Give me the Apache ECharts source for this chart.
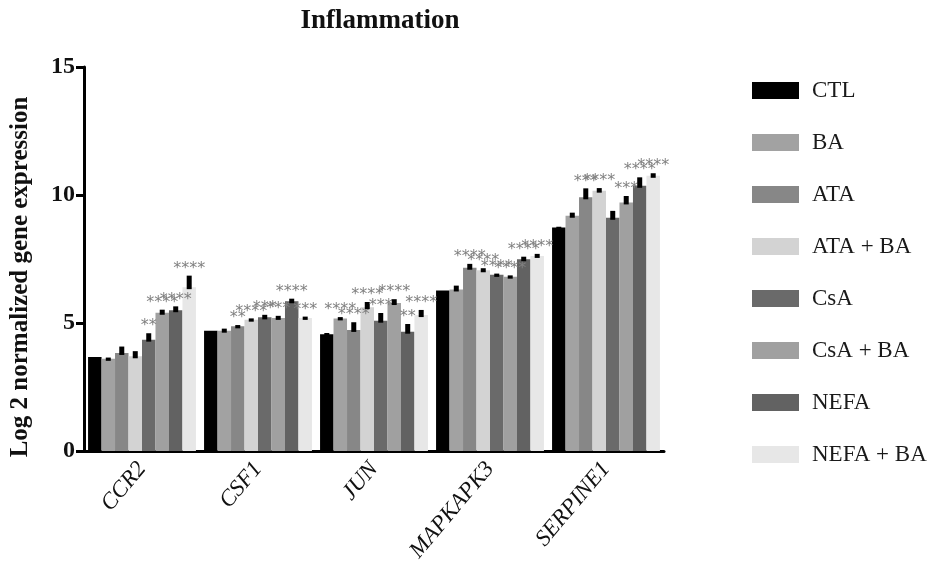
<!DOCTYPE html>
<html>
<head>
<meta charset="utf-8">
<title>Inflammation</title>
<script src="https://cdn.jsdelivr.net/npm/echarts@6/dist/echarts.min.js"></script>
<style>
  html, body { margin: 0; padding: 0; background: #fff; }
  #chart { width: 938px; height: 574px; }
</style>
</head>
<body>
<div id="chart"></div>
<script>
// Genes on the category axis
const genes = ['CCR2', 'CSF1', 'JUN', 'MAPKAPK3', 'SERPINE1'];
// Treatment groups, drawn left to right inside each gene
const groups = ['CTL', 'BA', 'ATA', 'ATA + BA', 'CsA', 'CsA + BA', 'NEFA', 'NEFA + BA'];
// Value axis ticks
const yTicks = [0, 5, 10, 15];

// Mean log2 normalized expression per group (one value per gene)
const valCTL    = [3.67, 4.70, 4.56, 6.27, 8.73];
const valBA     = [3.60, 4.70, 5.18, 6.31, 9.19];
const valATA    = [3.83, 4.87, 4.73, 7.16, 9.91];
const valATABA  = [3.70, 5.13, 5.62, 7.06, 10.17];
const valCsA    = [4.35, 5.22, 5.09, 6.88, 9.11];
const valCsABA  = [5.40, 5.20, 5.78, 6.81, 9.71];
const valNEFA   = [5.50, 5.85, 4.66, 7.49, 10.36];
const valNEFABA = [6.40, 5.20, 5.31, 7.62, 10.75];

// Error (SD) per group
const sdCTL    = [0.00, 0.00, 0.05, 0.00, 0.03];
const sdBA     = [0.05, 0.08, 0.05, 0.15, 0.12];
const sdATA    = [0.25, 0.05, 0.30, 0.15, 0.35];
const sdATABA  = [0.20, 0.05, 0.20, 0.08, 0.10];
const sdCsA    = [0.25, 0.10, 0.30, 0.05, 0.27];
const sdCsABA  = [0.12, 0.08, 0.15, 0.05, 0.25];
const sdNEFA   = [0.15, 0.10, 0.30, 0.10, 0.33];
const sdNEFABA = [0.45, 0.05, 0.20, 0.08, 0.10];

// Significance marks vs CTL
const sigCTL    = ['', '', '', '', ''];
const sigBA     = ['', '', '****', '', ''];
const sigATA    = ['', '**', '****', '****', '***'];
const sigATABA  = ['', '****', '****', '****', '****'];
const sigCsA    = ['**', '***', '***', '****', ''];
const sigCsABA  = ['****', '***', '****', '****', '***'];
const sigNEFA   = ['****', '****', '**', '****', '****'];
const sigNEFABA = ['****', '***', '****', '****', '****'];

// Grey fills for each group
const fills = ['#000000', '#a2a2a2', '#878787', '#d3d3d3', '#6a6a6a', '#a0a0a0', '#626262', '#e7e7e7'];

const groupValues = [valCTL, valBA, valATA, valATABA, valCsA, valCsABA, valNEFA, valNEFABA];
const groupSd = [sdCTL, sdBA, sdATA, sdATABA, sdCsA, sdCsABA, sdNEFA, sdNEFABA];
const groupSig = [sigCTL, sigBA, sigATA, sigATABA, sigCsA, sigCsABA, sigNEFA, sigNEFABA];

const CAT_GAP = 0.07;
const serif = '"Liberation Serif", "Times New Roman", serif';

const barSeries = groups.map((name, gi) => ({
  name: name,
  type: 'bar',
  data: groupValues[gi],
  barGap: '0%',
  barCategoryGap: (CAT_GAP * 100) + '%',
  itemStyle: { color: fills[gi] },
  emphasis: { disabled: true },
  z: 2
}));

// Error bars and significance stars, placed over the matching bar
const errorSeries = groups.map((name, gi) => ({
  type: 'custom',
  silent: true,
  z: 5,
  encode: { x: 0, y: 1 },
  data: genes.map((g, i) => [i, groupValues[gi][i], groupSd[gi][i]]),
  renderItem: function (params, api) {
    const i = api.value(0);
    const v = api.value(1);
    const sd = api.value(2);
    const band = api.size([1, 0])[0];
    const barW = band * (1 - CAT_GAP) / groups.length;
    const cx = api.coord([i, 0])[0] + (gi - (groups.length - 1) / 2) * barW;
    const yTop = api.coord([i, v + sd])[1];
    const yBar = api.coord([i, v])[1];
    const children = [];
    if (sd > 0) {
      children.push({
        type: 'rect',
        shape: { x: cx - 2.5, y: yTop, width: 5, height: Math.max(yBar - yTop + 2, 3) },
        style: { fill: '#000' }
      });
    }
    const sig = groupSig[gi][params.dataIndex];
    if (sig) {
      children.push({
        type: 'text',
        style: {
          text: sig, x: cx, y: yTop + 1,
          align: 'center', verticalAlign: 'bottom',
          fill: '#808080', font: '16px "DejaVu Sans", sans-serif'
        }
      });
    }
    return { type: 'group', children: children };
  }
}));

const chart = echarts.init(document.getElementById('chart'), null, { renderer: 'canvas' });
chart.setOption({
  animation: false,
  backgroundColor: '#ffffff',
  title: {
    text: 'Inflammation',
    left: 375, top: 3, textAlign: 'center',
    textStyle: { fontFamily: serif, fontWeight: 'bold', fontSize: 27, color: '#111' }
  },
  legend: {
    data: groups,
    orient: 'vertical',
    left: 747, top: 74,
    icon: 'rect',
    itemWidth: 47, itemHeight: 17, itemGap: 29,
    selectedMode: false,
    textStyle: { fontFamily: serif, fontSize: 23, color: '#1a1a1a', padding: [0, 0, 0, 8] }
  },
  grid: { left: 84, right: 274, top: 67, bottom: 123, containLabel: false },
  xAxis: {
    type: 'category',
    data: genes,
    axisLine: { lineStyle: { color: '#000', width: 3 } },
    axisTick: { alignWithLabel: true, length: 8, lineStyle: { color: '#000', width: 3 } },
    axisLabel: {
      rotate: 50, margin: 14, color: '#111',
      fontFamily: serif, fontStyle: 'italic', fontSize: 23
    }
  },
  yAxis: {
    type: 'value',
    min: yTicks[0], max: yTicks[yTicks.length - 1], interval: 5,
    splitLine: { show: false },
    axisLine: { show: true, lineStyle: { color: '#000', width: 3 } },
    axisTick: { show: true, length: 8, lineStyle: { color: '#000', width: 3 } },
    axisLabel: {
      margin: 9, color: '#111',
      fontFamily: serif, fontWeight: 'bold', fontSize: 24
    }
  },
  graphic: [{
    type: 'text',
    x: 21, y: 277,
    rotation: Math.PI / 2,
    style: {
      text: 'Log 2 normalized gene expression',
      align: 'center', verticalAlign: 'middle',
      font: 'bold 25px ' + serif, fill: '#111'
    }
  }],
  series: barSeries.concat(errorSeries)
});
</script>
</body>
</html>
